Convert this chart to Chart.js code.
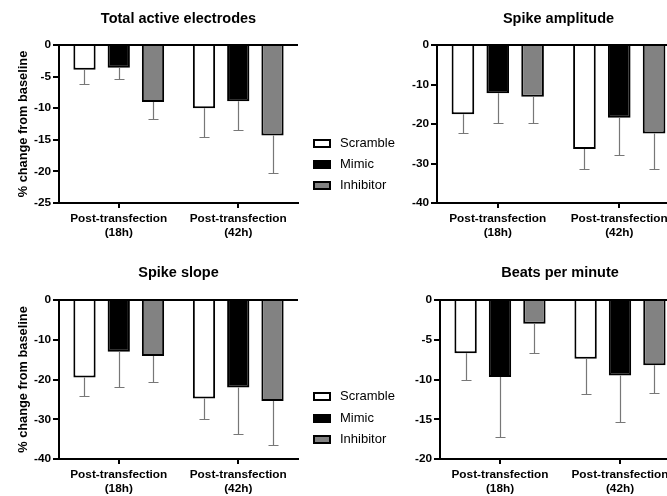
<!DOCTYPE html>
<html>
<head>
<meta charset="utf-8">
<script src="https://cdn.jsdelivr.net/npm/chart.js@4/dist/chart.umd.min.js"></script>
<style>
  body { margin: 0; width: 667px; height: 496px; overflow: hidden; background: #fff; position: relative; font-family: "Liberation Sans", Arial, sans-serif; }
  canvas { position: absolute; }
  .item { position: absolute; left: 313px; height: 20px; line-height: 20px; font-size: 13px; color: #000; white-space: nowrap; }
  .item span.box { position: absolute; left: 0; top: 6px; width: 14px; height: 5px; border: 2px solid #000; }
  .item span.txt { position: absolute; left: 27px; top: 0; }
</style>
</head>
<body>
<canvas id="c1" width="310" height="250" style="left:0;top:0"></canvas>
<canvas id="c2" width="320" height="250" style="left:380px;top:0"></canvas>
<canvas id="c3" width="310" height="246" style="left:0;top:250px"></canvas>
<canvas id="c4" width="320" height="246" style="left:380px;top:250px"></canvas>
<div id="legends"></div>
<script>
const groups = [['Post-transfection', '(18h)'], ['Post-transfection', '(42h)']];
const series = ['Scramble', 'Mimic', 'Inhibitor'];
const fills = ['#ffffff', '#000000', '#828282'];

// rows: Scramble, Mimic, Inhibitor ; columns: 18h, 42h
const electrodesMean = [[-3.9, -10.0], [-3.6, -8.9], [-9.0, -14.3]];
const electrodesSd = [[2.2, 4.6], [1.8, 4.5], [2.7, 6.0]];

const amplitudeMean = [[-17.5, -26.3], [-12.2, -18.4], [-13.1, -22.4]];
const amplitudeSd = [[4.8, 5.1], [7.6, 9.5], [6.6, 8.9]];

const slopeMean = [[-19.5, -24.8], [-13.0, -22.0], [-14.1, -25.4]];
const slopeSd = [[4.7, 5.1], [8.9, 11.8], [6.6, 11.2]];

const bpmMean = [[-6.7, -7.4], [-9.7, -9.5], [-3.0, -8.2]];
const bpmSd = [[3.4, 4.4], [7.5, 5.9], [3.7, 3.5]];

const yLabel = '% change from baseline';
const family = '"Liberation Sans", Arial, sans-serif';

const errorBars = {
  id: 'errorBars',
  afterDatasetsDraw(chart) {
    const { ctx, scales: { y } } = chart;
    ctx.save();
    ctx.strokeStyle = '#777';
    ctx.lineWidth = 1.2;
    chart.data.datasets.forEach((ds, i) => {
      chart.getDatasetMeta(i).data.forEach((bar, j) => {
        const v = ds.data[j];
        const top = y.getPixelForValue(v);
        const end = Math.round(y.getPixelForValue(v - ds.sd[j])) + 0.5;
        const x = Math.round(bar.x) + 0.5;
        ctx.beginPath();
        ctx.moveTo(x, top);
        ctx.lineTo(x, end);
        ctx.moveTo(x - 5, end);
        ctx.lineTo(x + 5, end);
        ctx.stroke();
      });
    });
    ctx.restore();
  }
};

function makeChart(id, title, means, sds, yMin, yStep, box, showYTitle) {
  const canvas = document.getElementById(id);
  return new Chart(canvas, {
    type: 'bar',
    data: {
      labels: groups,
      datasets: series.map((name, i) => ({
        label: name,
        data: means[i],
        sd: sds[i],
        backgroundColor: fills[i],
        borderColor: '#000',
        borderWidth: 2,
        barPercentage: 0.65,
        categoryPercentage: 0.86
      }))
    },
    options: {
      responsive: false,
      animation: false,
      layout: { padding: { left: 0, right: canvas.width - box.right, top: 0, bottom: 0 } },
      plugins: {
        legend: { display: false },
        tooltip: { enabled: false },
        title: {
          display: true, text: title, fullSize: false, color: '#000',
          font: { family, size: 14.5, weight: 'bold', lineHeight: 1.2 },
          padding: { top: box.titleTop, bottom: box.top - box.titleTop - 17.4 }
        }
      },
      scales: {
        x: {
          grid: { offset: false, drawOnChartArea: false, tickLength: 5, lineWidth: 2, color: '#000' },
          border: { color: '#000', width: 2 },
          ticks: { color: '#000', font: { family, size: 11.8, weight: 'bold' }, padding: 4, maxRotation: 0, autoSkip: false },
          afterFit: s => { s.height = canvas.height - box.bottom; }
        },
        y: {
          min: yMin, max: 0,
          ticks: { stepSize: yStep, color: '#000', font: { family, size: 11.8, weight: 'bold' }, padding: 2 },
          grid: {
            drawOnChartArea: true, tickLength: 6, lineWidth: 2, tickColor: '#000',
            color: c => (c.tick && c.tick.value === 0 ? '#000' : 'rgba(0,0,0,0)')
          },
          border: { color: '#000', width: 2 },
          title: {
            display: showYTitle, text: yLabel, color: '#000',
            font: { family, size: 12.8, weight: 'bold' }, padding: { top: 16, bottom: 0 }
          },
          afterFit: s => { s.width = box.left; }
        }
      }
    },
    plugins: [errorBars]
  });
}

makeChart('c1', 'Total active electrodes', electrodesMean, electrodesSd, -25, 5,
  { left: 59, right: 298, top: 45, bottom: 203, titleTop: 10.3 }, true);
makeChart('c2', 'Spike amplitude', amplitudeMean, amplitudeSd, -40, 10,
  { left: 57, right: 300, top: 45, bottom: 203, titleTop: 10.3 }, false);
makeChart('c3', 'Spike slope', slopeMean, slopeSd, -40, 10,
  { left: 59, right: 298, top: 50, bottom: 209, titleTop: 13.8 }, true);
makeChart('c4', 'Beats per minute', bpmMean, bpmSd, -20, 5,
  { left: 60, right: 300, top: 50, bottom: 209, titleTop: 13.8 }, false);

// legends between the two columns
const legendRows = [[143, 164, 185], [396, 418, 439]];
const holder = document.getElementById('legends');
legendRows.forEach(rows => {
  series.forEach((name, i) => {
    const item = document.createElement('div');
    item.className = 'item';
    item.style.top = (rows[i] - 10) + 'px';
    item.innerHTML = '<span class="box" style="background:' + fills[i] + '"></span><span class="txt">' + name + '</span>';
    holder.appendChild(item);
  });
});
</script>
</body>
</html>
